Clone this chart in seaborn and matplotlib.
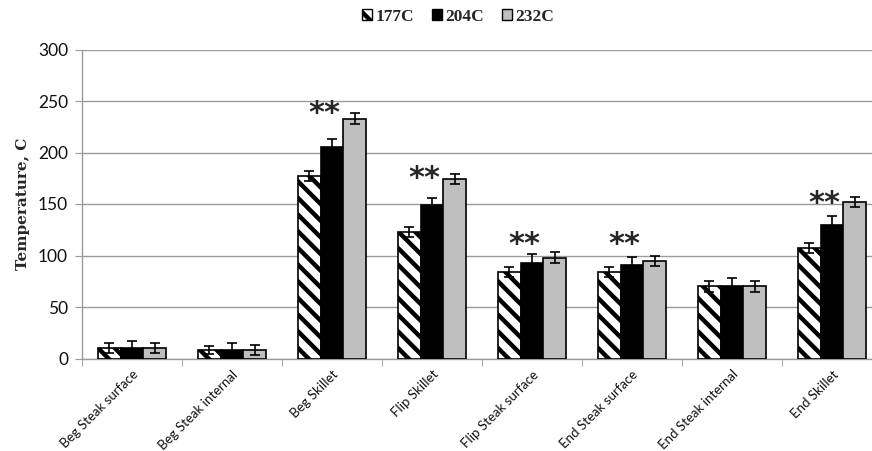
import numpy as np
import pandas as pd
import matplotlib
matplotlib.use("Agg")
import matplotlib.pyplot as plt
import seaborn as sns
from matplotlib.patches import Patch

categories = ["Beg Steak surface", "Beg Steak internal", "Beg Skillet", "Flip Skillet",
              "Flip Steak surface", "End Steak surface", "End Steak internal", "End Skillet"]
series = ["177C", "204C", "232C"]
vals_177 = [10, 8, 177, 123, 84, 84, 70, 107]
vals_204 = [10, 8, 205, 149, 93, 91, 70, 130]
vals_232 = [10, 8, 233, 174, 98, 95, 70, 152]
err_177 = [5, 4, 5, 5, 5, 5, 5, 5]
err_204 = [7, 7, 8, 7, 8, 8, 8, 8]
err_232 = [5, 5, 5, 5, 5, 5, 5, 5]
# level (in C) at which the "**" significance marks sit; None = not significant
star_levels = [None, None, 243, 180, 116, 116, None, 156]
yticks = [0, 50, 100, 150, 200, 250, 300]

sns.set_style("white")
plt.rcParams["hatch.linewidth"] = 3.2

rows = []
for s, v, e in zip(series, [vals_177, vals_204, vals_232], [err_177, err_204, err_232]):
    for c, vv, ee in zip(categories, v, e):
        rows.append({"category": c, "series": s, "value": vv, "err": ee})
df = pd.DataFrame(rows)

fig = plt.figure(figsize=(8.72, 4.51), dpi=100)
ax = fig.add_axes([82 / 872, 1 - 358.5 / 451, 800 / 872, 309 / 451])

colors = ["white", "black", "#bfbfbf"]
sns.barplot(data=df, x="category", y="value", hue="series", order=categories,
            hue_order=series, palette=colors, width=0.68, gap=0, errorbar=None,
            edgecolor="black", linewidth=1.2, ax=ax, legend=False, zorder=3)

errs = [err_177, err_204, err_232]
bar_conts = list(ax.containers)
for ci, cont in enumerate(bar_conts):
    for bi, bar in enumerate(cont.patches):
        if ci == 0:
            bar.set_hatch("\\\\")
        cx = bar.get_x() + bar.get_width() / 2
        ax.errorbar(cx, bar.get_height(), yerr=errs[ci][bi], fmt="none", ecolor="black",
                    elinewidth=1.2, capsize=3.5, capthick=1.2, zorder=4)

# significance markers
for i, lvl in enumerate(star_levels):
    if lvl is not None:
        ax.annotate("**", xy=(i - 0.08, lvl), xytext=(0, -10), textcoords="offset points",
                    ha="center", va="baseline", fontsize=22, fontweight="bold",
                    family="DejaVu Sans", zorder=5)

ax.set_ylim(0, 300)
ax.set_xlim(-0.5, 7.5)
ax.set_yticks(yticks)
ax.set_yticklabels([str(t) for t in yticks], fontsize=12.5, family="Lato", color="#111111")
ax.yaxis.grid(True, color="#9a9a9a", linewidth=1.0, zorder=0)
ax.set_axisbelow(True)
ax.tick_params(axis="y", which="major", length=5, color="#9a9a9a", left=True, pad=5)
ax.set_xticks(range(len(categories)))
ax.set_xticklabels(categories, rotation=45, ha="right", rotation_mode="anchor",
                   fontsize=9.5, family="Lato", color="#111111")
ax.tick_params(axis="x", which="major", length=0, pad=7)
ax.set_xticks(np.arange(-0.5, len(categories), 1), minor=True)
ax.tick_params(axis="x", which="minor", length=5, color="#9a9a9a", bottom=True)
for side in ["top", "right"]:
    ax.spines[side].set_visible(False)
for side in ["left", "bottom"]:
    ax.spines[side].set_color("#9a9a9a")
    ax.spines[side].set_linewidth(1.0)
ax.set_xlabel("")
ax.set_ylabel("Temperature, C", fontsize=11, family="DejaVu Serif", fontweight="bold",
              labelpad=6)

handles = [Patch(facecolor=c, edgecolor="black", linewidth=1.0, hatch=h)
           for c, h in zip(colors, ["\\\\", "", ""])]
fig.legend(handles, series, loc="center", bbox_to_anchor=(458 / 872, 1 - 17 / 451),
           ncol=3, frameon=False, handlelength=0.6, handleheight=0.6,
           handletextpad=0.2, columnspacing=1.0,
           prop={"family": "Liberation Serif", "weight": "bold", "size": 12.5})

fig.savefig("out.png", dpi=100)
